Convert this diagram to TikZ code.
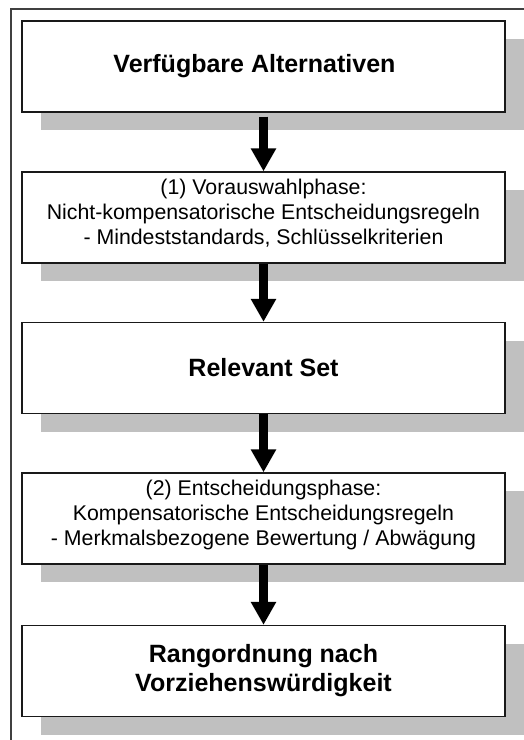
\documentclass[tikz,border=0pt]{standalone}
\usepackage{fontspec}
\setmainfont{Liberation Sans}
\usetikzlibrary{arrows.meta,shadows}
\definecolor{shadowgray}{HTML}{C0C0C0}
\definecolor{framegray}{HTML}{404040}
\tikzset{
  flowbox/.style={draw=black!90, line width=1.3pt, fill=white, rectangle,
    minimum width=483pt, minimum height=91pt, inner sep=0pt, align=center,
    drop shadow={shadow xshift=19pt, shadow yshift=-18pt, fill=shadowgray, opacity=1}},
  boldtext/.style={font=\fontsize{25}{29}\selectfont\bfseries},
  plaintext/.style={font=\fontsize{21.3}{24.6}\selectfont},
  bigarrow/.style={line width=9pt, -{Triangle[width=24pt,length=23pt]}, black}
}
\begin{document}
\begin{tikzpicture}[x=1pt,y=-1pt]
\useasboundingbox (0,0) rectangle (524,740);
\clip (0,0) rectangle (524,740);
\draw[framegray, line width=1.2pt] (11,9) rectangle (560,780);
\node[flowbox, boldtext] (b1) at (263.5,66.5) {\hspace*{-18pt}Verfügbare Alternativen};
\node[flowbox, plaintext] (b2) at (263.5,217.5) {(1) Vorauswahlphase:\\Nicht-kompensatorische Entscheidungsregeln\\- Mindeststandards, Schlüsselkriterien\\[-13pt]};
\node[flowbox, boldtext] (b3) at (263.5,368) {Relevant Set};
\node[flowbox, plaintext] (b4) at (263.5,518.5) {(2) Entscheidungsphase:\\Kompensatorische Entscheidungsregeln\\- Merkmalsbezogene Bewertung / Abwägung\\[-13pt]};
\node[flowbox, boldtext] (b5) at (263.5,671) {Rangordnung nach\\Vorziehenswürdigkeit};
\draw[bigarrow] ([yshift=-4pt]b1.south) -- (b2.north);
\draw[bigarrow] (b2.south) -- (b3.north);
\draw[bigarrow] (b3.south) -- (b4.north);
\draw[bigarrow] (b4.south) -- (b5.north);
\end{tikzpicture}
\end{document}
